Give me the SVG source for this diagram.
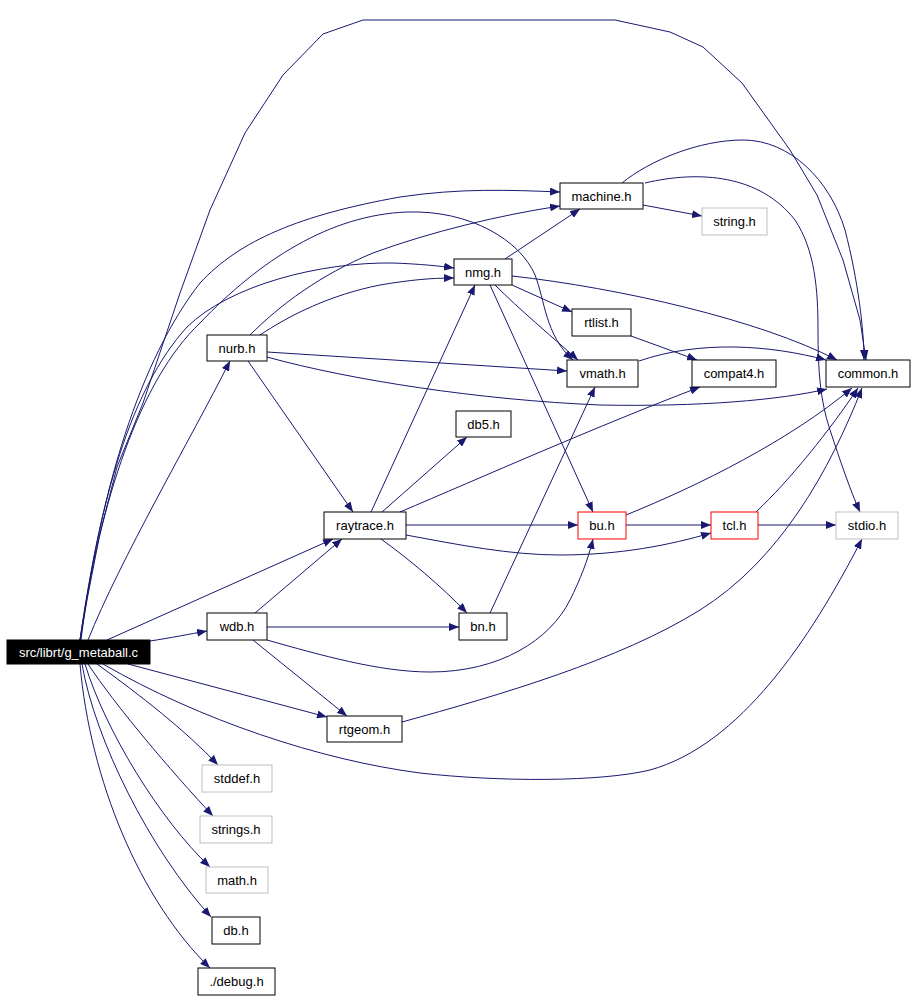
<svg xmlns="http://www.w3.org/2000/svg" width="915" height="1000" viewBox="0 0 915 1000">
<defs>
<style>
.e{fill:none;stroke:#191970;stroke-width:1;marker-end:url(#a)}
.n rect{fill:#fff;stroke:#000;stroke-width:1}
.g rect{stroke:#bfbfbf}
.r rect{stroke:#ff0000}
text{font-family:"Liberation Sans",Arial,Helvetica,sans-serif;font-size:13px;text-anchor:middle;fill:#000}
</style>
<marker id="a" markerWidth="10" markerHeight="8" refX="10" refY="4" orient="auto" markerUnits="userSpaceOnUse" viewBox="0 0 10 8"><path d="M0,0L10,4L0,8z" fill="#191970"/></marker>
</defs>
<rect width="915" height="1000" fill="#fff"/>
<g id="connectors">
<path class="e" d="M150,641 C170,638 190,634 207,631"/>
<path class="e" d="M107,640 L333,539"/>
<path class="e" d="M88,640 C120,560 190,440 230,361"/>
<path class="e" d="M128,664 L327,717"/>
<path class="e" d="M97,664 C140,695 185,730 218,765"/>
<path class="e" d="M88,664 C115,705 170,770 213,816"/>
<path class="e" d="M85,664 C105,730 160,820 210,867"/>
<path class="e" d="M82,664 C95,740 150,850 211,917"/>
<path class="e" d="M80,664 C90,780 140,900 210,968"/>
<path class="e" d="M103,664 C200,720 320,760 420,773 C500,782 600,782 650,770 C740,745 810,640 862,539"/>
<path class="e" d="M80,640 C100,500 130,390 187,327 C230,285 320,262 393,263 C420,264 440,266 454,268"/>
<path class="e" d="M81,640 C100,490 140,360 200,283 C240,240 300,215 400,197 C460,188 510,190 560,192"/>
<path class="e" d="M80,640 C100,500 140,380 200,323 C260,260 330,215 407,212 C470,210 520,240 535,275 C545,300 545,335 573,360"/>
<path class="e" d="M80,640 L87,600 L100,533 L117,467 L143,403 L180,293 L210,210 L245,133 L283,75 L323,34 L363,20 L615,20 L670,32 L703,47 L742,83 L790,150 L817,195 L843,260 L860,320 L866,360"/>
<path class="e" d="M250,335 C280,305 320,275 373,253 C430,232 500,215 560,206"/>
<path class="e" d="M260,335 C290,315 330,295 380,285 C410,280 430,278 454,278"/>
<path class="e" d="M267,352 L567,371"/>
<path class="e" d="M267,357 C350,380 480,400 600,405 C700,407 780,400 827,389"/>
<path class="e" d="M248,361 L353,512"/>
<path class="e" d="M255,613 L342,539"/>
<path class="e" d="M267,627 L459,627"/>
<path class="e" d="M267,640 C320,655 380,672 430,672 C500,672 550,640 570,600 C580,580 588,560 593,539"/>
<path class="e" d="M253,640 L347,716"/>
<path class="e" d="M371,512 L475,285"/>
<path class="e" d="M382,512 L467,437"/>
<path class="e" d="M400,512 C480,478 600,425 700,387"/>
<path class="e" d="M406,525 L578,525"/>
<path class="e" d="M406,535 C460,545 510,555 560,555 C620,555 670,545 711,533"/>
<path class="e" d="M381,539 C410,560 440,585 467,613"/>
<path class="e" d="M490,613 L595,387"/>
<path class="e" d="M505,259 L580,209"/>
<path class="e" d="M512,276 C620,288 760,320 837,360"/>
<path class="e" d="M512,285 L572,312"/>
<path class="e" d="M495,285 C520,310 550,335 578,360"/>
<path class="e" d="M490,285 L593,512"/>
<path class="e" d="M626,525 L711,525"/>
<path class="e" d="M626,515 C700,485 790,440 852,388"/>
<path class="e" d="M758,525 L836,525"/>
<path class="e" d="M756,512 C790,480 830,430 858,388"/>
<path class="e" d="M402,722 C500,695 620,660 700,610 C780,560 830,470 862,388"/>
<path class="e" d="M631,336 L697,360"/>
<path class="e" d="M639,361 C700,340 770,345 826,360"/>
<path class="e" d="M643,205 L702,216"/>
<path class="e" d="M622,183 C650,160 700,140 743,140 C790,140 830,180 845,230 C858,280 864,330 864,360"/>
<path class="e" d="M645,183 C700,170 760,175 795,220 C815,250 818,290 818,330 C818,370 820,400 830,430 C840,460 850,490 860,512"/>
</g>
<g id="node-g_metaball"><rect x="7" y="640" width="143" height="24" fill="#000" stroke="#000"/><text x="78.5" y="656.5" style="fill:#fff">src/librt/g_metaball.c</text></g>
<g id="node-wdb" class="n"><rect x="207" y="613" width="60" height="27"/><text x="237" y="631">wdb.h</text></g>
<g id="node-rtgeom" class="n"><rect x="327" y="716" width="75" height="26"/><text x="364.5" y="733.5">rtgeom.h</text></g>
<g id="node-stddef" class="n g"><rect x="202" y="765" width="70" height="27"/><text x="237" y="783">stddef.h</text></g>
<g id="node-strings" class="n g"><rect x="200" y="816" width="72" height="27"/><text x="236" y="834">strings.h</text></g>
<g id="node-math" class="n g"><rect x="206" y="867" width="62" height="26"/><text x="237" y="884.5">math.h</text></g>
<g id="node-db" class="n"><rect x="212" y="917" width="48" height="27"/><text x="236" y="935">db.h</text></g>
<g id="node-debug" class="n"><rect x="198" y="968" width="77" height="27"/><text x="236.5" y="986">./debug.h</text></g>
<g id="node-machine" class="n"><rect x="560" y="183" width="83" height="26"/><text x="601.5" y="200.5">machine.h</text></g>
<g id="node-nmg" class="n"><rect x="454" y="259" width="58" height="26"/><text x="483" y="276.5">nmg.h</text></g>
<g id="node-rtlist" class="n"><rect x="572" y="309" width="59" height="27"/><text x="601.5" y="327">rtlist.h</text></g>
<g id="node-nurb" class="n"><rect x="207" y="335" width="60" height="26"/><text x="237" y="352.5">nurb.h</text></g>
<g id="node-vmath" class="n"><rect x="567" y="360" width="71" height="27"/><text x="602.5" y="378">vmath.h</text></g>
<g id="node-db5" class="n"><rect x="456" y="411" width="55" height="26"/><text x="483.5" y="428.5">db5.h</text></g>
<g id="node-string" class="n g"><rect x="702" y="208" width="65" height="27"/><text x="734.5" y="226">string.h</text></g>
<g id="node-compat4" class="n"><rect x="692" y="360" width="84" height="27"/><text x="734" y="378">compat4.h</text></g>
<g id="node-common" class="n"><rect x="826" y="360" width="84" height="27"/><text x="868" y="378">common.h</text></g>
<g id="node-bu" class="n r"><rect x="578" y="512" width="48" height="27"/><text x="602" y="530">bu.h</text></g>
<g id="node-tcl" class="n r"><rect x="711" y="512" width="47" height="27"/><text x="734.5" y="530">tcl.h</text></g>
<g id="node-stdio" class="n g"><rect x="836" y="512" width="62" height="27"/><text x="867" y="530">stdio.h</text></g>
<g id="node-raytrace" class="n"><rect x="324" y="512" width="82" height="27"/><text x="365" y="530">raytrace.h</text></g>
<g id="node-bn" class="n"><rect x="459" y="613" width="48" height="27"/><text x="483" y="631">bn.h</text></g>
</svg>
